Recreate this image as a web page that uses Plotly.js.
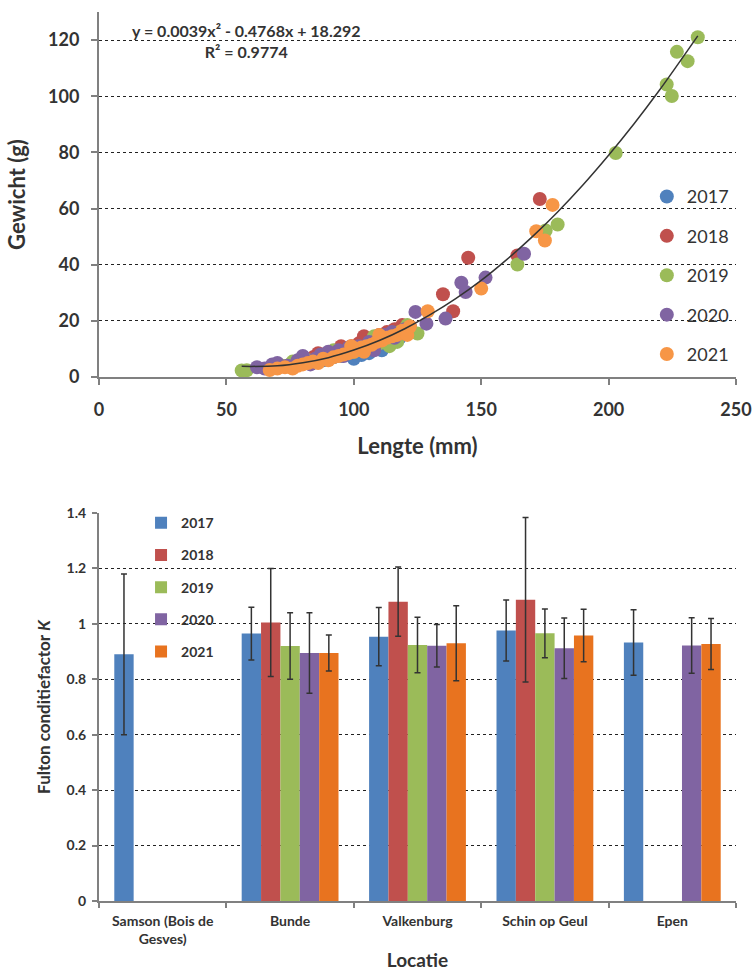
<!DOCTYPE html>
<html>
<head>
<meta charset="utf-8">
<script src="https://cdn.plot.ly/plotly-3.0.1.min.js"></script>
<style>html,body{margin:0;padding:0;background:#fff;}#chart{width:753px;height:972px;}</style>
</head>
<body>
<div id="chart"></div>
<script>
// ---------- Top chart: length vs weight ----------
const years = ['2017', '2018', '2019', '2020', '2021'];

const len2017 = [85, 88, 92, 95, 98, 100, 102, 103, 104, 106, 97, 108, 109, 110, 112, 114, 116, 118, 111, 105];
const wt2017  = [5.5, 6, 7, 7.5, 8, 6.5, 9, 7.8, 9.5, 8.5, 8.2, 10, 12.5, 11, 11.5, 12, 13, 14, 9.5, 12];

const len2018 = [70, 75, 80, 84, 88, 90, 93, 96, 99, 102, 105, 108, 110, 113, 116, 119, 122, 86, 95, 104, 135, 139, 144.9, 164.2, 173];
const wt2018  = [3.5, 4.5, 5.5, 7, 8, 8.5, 9, 10, 11, 12, 13, 13.5, 15, 16, 17, 18.5, 18, 8.5, 11, 14.5, 29.5, 23.4, 42.5, 43.3, 63.4];

const len2019 = [56, 58, 72, 76, 82, 88, 95, 100, 105, 110, 114, 117, 118, 121, 125, 92, 108, 164.2, 175.3, 180, 202.8, 222.8, 224.8, 226.8, 231, 235];
const wt2019  = [2.3, 2.4, 4, 5.5, 6, 7, 8.5, 9, 10, 12, 11, 12.5, 16, 18.5, 15.5, 9.5, 14.5, 40.1, 52.2, 54.3, 79.8, 104.2, 100.1, 115.8, 112.5, 121];

const len2020 = [62, 65, 68, 70, 74, 78, 80, 85, 87, 90, 94, 98, 102, 106, 110, 112, 116, 120, 83, 96, 108, 115, 124.2, 128.5, 136, 142.2, 143.9, 151.7, 166.8];
const wt2020  = [3.5, 3, 4.5, 5, 4, 6, 7.5, 6.5, 8, 9, 9.5, 10.5, 11, 12.5, 13, 15, 14, 17, 4.5, 7.5, 9.5, 16, 23.2, 19, 20.8, 33.6, 30.3, 35.4, 43.9];

const len2021 = [67, 70, 73, 76, 78, 80, 82, 84, 86, 88, 90, 92, 94, 96, 98, 100, 101, 103, 105, 107, 109, 111, 113, 115, 117, 119, 121, 122, 99, 104, 110, 129, 150, 171.6, 175, 178];
const wt2021  = [2.5, 3, 3.5, 3, 4, 4.5, 5, 5.5, 5, 6.5, 6, 7, 7.5, 8, 8.5, 9, 10, 10.5, 11, 11.5, 12.5, 13, 14, 14.5, 15, 16.5, 15, 18, 11, 9, 15, 23.4, 31.5, 51.9, 48.6, 61.3];

// trendline points
const trendX = [56, 70, 80, 90, 100, 110, 120, 130, 140, 150, 160, 170, 180, 190, 200, 210, 220, 235];
const trendY = [3.8, 4.0, 5.1, 6.9, 9.6, 13.0, 17.2, 22.2, 27.9, 34.4, 41.8, 49.9, 58.8, 68.5, 79.0, 90.2, 102.2, 121.5];

// ---------- Bottom chart: Fulton condition factor ----------
const locaties = ['Samson (Bois de<br>Gesves)', 'Bunde', 'Valkenburg', 'Schin op Geul', 'Epen'];
const k2017 = [0.89, 0.965, 0.954, 0.976, 0.933];
const e2017 = [0.29, 0.095, 0.105, 0.11, 0.118];
const k2018 = [null, 1.005, 1.08, 1.087, null];
const e2018 = [0, 0.195, 0.125, 0.297, 0];
const k2019 = [null, 0.92, 0.924, 0.966, null];
const e2019 = [0, 0.12, 0.10, 0.088, 0];
const k2020 = [null, 0.895, 0.921, 0.912, 0.922];
const e2020 = [0, 0.145, 0.077, 0.109, 0.10];
const k2021 = [null, 0.895, 0.930, 0.958, 0.927];
const e2021 = [0, 0.065, 0.135, 0.095, 0.092];

const dotColors = ['#4F81BD', '#C0504D', '#9BBB59', '#8064A2', '#F79646'];
const barColors = ['#4F81BD', '#C0504D', '#9BBB59', '#8064A2', '#E8731F'];

const FONT = 'Lato, "Open Sans", sans-serif';
const TXT = '#333333';

const lens = [len2017, len2018, len2019, len2020, len2021];
const wts = [wt2017, wt2018, wt2019, wt2020, wt2021];
const ks = [k2017, k2018, k2019, k2020, k2021];
const es = [e2017, e2018, e2019, e2020, e2021];

const traces = [];
years.forEach((yr, i) => {
  traces.push({
    type: 'scatter', mode: 'markers', x: lens[i], y: wts[i], name: yr,
    xaxis: 'x', yaxis: 'y', legend: 'legend', legendgroup: 'a' + yr,
    marker: {color: dotColors[i], size: 14, line: {width: 0}},
    cliponaxis: false
  });
});
traces.push({
  type: 'scatter', mode: 'lines', x: trendX, y: trendY, showlegend: false,
  xaxis: 'x', yaxis: 'y', line: {color: '#333', width: 1.5, shape: 'spline'}
});
years.forEach((yr, i) => {
  traces.push({
    type: 'bar', x: locaties, y: ks[i], name: yr,
    xaxis: 'x2', yaxis: 'y2', legend: 'legend2', legendgroup: 'b' + yr,
    marker: {color: barColors[i], line: {width: 0}},
    error_y: {type: 'data', array: es[i], visible: true, color: '#333', thickness: 1.5, width: 3}
  });
});

const gridCommon = {showgrid: true, gridcolor: '#222', gridwidth: 1, griddash: 'dot'};

const layout = {
  width: 753, height: 972,
  margin: {l: 99, r: 17, t: 12, b: 71},
  paper_bgcolor: '#fff', plot_bgcolor: '#fff',
  font: {family: FONT, color: TXT},
  barmode: 'group', bargap: 0.24, bargroupgap: 0,
  showlegend: true,
  xaxis: {
    domain: [0, 1], anchor: 'y', range: [0, 250], dtick: 50, tick0: 0,
    showgrid: false, zeroline: false, showline: true, linecolor: '#808080', linewidth: 2,
    ticks: 'outside', ticklen: 6, tickwidth: 2, tickcolor: '#808080', ticklabelstandoff: 9,
    tickfont: {size: 18, weight: 'bold', color: TXT},
    title: {text: 'Lengte (mm)', font: {size: 22, weight: 'bold', color: TXT}, standoff: 20}
  },
  yaxis: Object.assign({
    domain: [0.5894, 1], anchor: 'x', range: [0, 130], dtick: 20, tick0: 0,
    zeroline: false, showline: true, linecolor: '#808080', linewidth: 2,
    ticks: 'outside', ticklen: 6, tickwidth: 2, tickcolor: '#808080', ticklabelstandoff: 8,
    tickfont: {size: 18, weight: 'bold', color: TXT},
    title: {text: 'Gewicht (g)', font: {size: 22, weight: 'bold', color: TXT}, standoff: 16}
  }, gridCommon),
  xaxis2: {
    domain: [0, 1], anchor: 'y2', type: 'category', range: [-0.5, 4.5],
    showgrid: false, zeroline: false, showline: true, linecolor: '#808080', linewidth: 2,
    ticks: 'outside', tickson: 'boundaries', ticklen: 5, tickwidth: 2, tickcolor: '#808080', ticklabelstandoff: 6,
    tickfont: {size: 14, weight: 'bold', color: TXT},
    title: {text: 'Locatie', font: {size: 19, weight: 'bold', color: TXT}, standoff: 8}
  },
  yaxis2: Object.assign({
    domain: [0, 0.4364], anchor: 'x2', range: [0, 1.4], dtick: 0.2, tick0: 0,
    zeroline: false, showline: true, linecolor: '#808080', linewidth: 2,
    ticks: 'outside', ticklen: 5, tickwidth: 2, tickcolor: '#808080', ticklabelstandoff: 3,
    tickfont: {size: 14, weight: 'bold', color: TXT},
    title: {text: 'Fulton conditiefactor <i>K</i>', font: {size: 17, weight: 'bold', color: TXT}, standoff: 12}
  }, gridCommon),
  legend: {
    x: 0.86, y: 0.813, xanchor: 'left', yanchor: 'top', xref: 'paper', yref: 'paper',
    bgcolor: 'rgba(0,0,0,0)', font: {size: 18, color: TXT}, tracegroupgap: 13, itemwidth: 30
  },
  legend2: {
    x: 0.066, y: 0.443, xanchor: 'left', yanchor: 'top', xref: 'paper', yref: 'paper',
    bgcolor: 'rgba(0,0,0,0)', font: {size: 14, weight: 'bold', color: TXT}, tracegroupgap: 11, itemwidth: 30
  },
  annotations: [{
    xref: 'paper', yref: 'paper', x: 0.231, y: 0.992, xanchor: 'center', yanchor: 'top',
    text: 'y = 0.0039x² - 0.4768x + 18.292<br>R² = 0.9774', showarrow: false, align: 'center',
    font: {size: 16, weight: 'bold', color: TXT}
  }]
};

Plotly.newPlot('chart', traces, layout, {displayModeBar: false, staticPlot: true});
</script>
</body>
</html>
